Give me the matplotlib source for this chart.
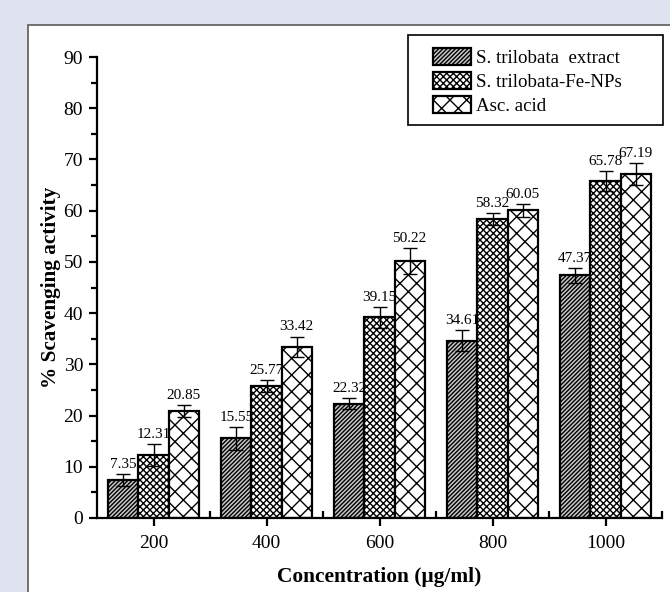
import matplotlib
matplotlib.use("Agg")
import matplotlib.pyplot as plt
import numpy as np
from matplotlib.patches import Rectangle
from matplotlib.ticker import MultipleLocator

categories = ["200", "400", "600", "800", "1000"]
series_names = ["S. trilobata  extract", "S. trilobata-Fe-NPs", "Asc. acid"]
extract = [7.35, 15.55, 22.32, 34.61, 47.37]
fenps = [12.31, 25.77, 39.15, 58.32, 65.78]
asc = [20.85, 33.42, 50.22, 60.05, 67.19]
extract_err = [1.2, 2.2, 1.1, 2.1, 1.4]
fenps_err = [2.2, 1.1, 2.1, 1.2, 2.0]
asc_err = [1.2, 2.0, 2.5, 1.2, 2.1]

plt.rcParams['font.family'] = ['Liberation Serif', 'DejaVu Serif']
plt.rcParams['hatch.linewidth'] = 1.0

W, H = 670, 592
fig = plt.figure(figsize=(W / 100, H / 100), dpi=100, facecolor='#dfe3f0')
fig.patches.append(Rectangle((28 / W, -0.01), 1.0, 1 - 25 / H + 0.01, transform=fig.transFigure,
                             facecolor='white', edgecolor='#666666', linewidth=1.3, zorder=-5))
# legend box (drawn separately to match the wide frame of the reference)
fig.patches.append(Rectangle((408 / W, 1 - 125 / H), (663 - 408) / W, (125 - 35) / H,
                             transform=fig.transFigure, facecolor='white', edgecolor='black',
                             linewidth=1.2, zorder=1))
ax = fig.add_axes([97 / W, 1 - 518 / H, (662 - 97) / W, (518 - 57) / H], zorder=2)
ax.set_facecolor('none')

x = np.arange(len(categories))
w = 0.267
hatches = ['////////', 'xxxxx', 'xx']
faces = ['#c8c8c8', 'white', 'white']
data = [extract, fenps, asc]
errs = [extract_err, fenps_err, asc_err]
for i, (vals, err, h, fc, name) in enumerate(zip(data, errs, hatches, faces, series_names)):
    pos = x + (i - 1) * w
    ax.bar(pos, vals, width=w, facecolor=fc, edgecolor='black', hatch=h,
           linewidth=1.6, label=name, zorder=2)
    ax.errorbar(pos, vals, yerr=err, fmt='none', ecolor='black', elinewidth=1.0,
                capsize=5, capthick=1.0, zorder=3)
    for p, v, e in zip(pos, vals, err):
        ax.text(p, v + e + 0.6, f"{v:.2f}", ha='center', va='bottom', fontsize=11, zorder=4)

ax.set_xlim(-0.5, 4.5)
ax.set_ylim(0, 90)
ax.set_xticks(x)
ax.set_xticklabels(categories)
ax.set_xticks(np.arange(-0.5, 5.0, 1.0)[1:], minor=True)
ax.yaxis.set_major_locator(MultipleLocator(10))
ax.yaxis.set_minor_locator(MultipleLocator(5))
for s in ['top', 'right']:
    ax.spines[s].set_visible(False)
for s in ['left', 'bottom']:
    ax.spines[s].set_linewidth(1.6)
ax.tick_params(axis='both', which='major', labelsize=14, width=1.6, length=6, direction='out')
ax.tick_params(axis='y', which='minor', width=1.6, length=4, direction='out')
ax.tick_params(axis='x', which='minor', width=1.6, length=5, direction='in')
ax.tick_params(axis='x', which='major', pad=6)
ax.tick_params(axis='y', which='major', pad=4)

ax.set_ylabel('% Scavenging activity', fontsize=15.3, fontweight='bold', labelpad=2)
ax.set_xlabel('Concentration (μg/ml)', fontsize=15.4, fontweight='bold', labelpad=11)

leg = ax.legend(loc='upper left', bbox_to_anchor=(433 / W, 1 - 48 / H),
                bbox_transform=fig.transFigure, fontsize=13.6, frameon=False,
                handlelength=2.0, handleheight=1.0, handletextpad=0.3,
                borderpad=0.0, labelspacing=0.28, borderaxespad=0.0)
leg.set_zorder(5)

fig.savefig('out.png', dpi=100, facecolor=fig.get_facecolor())
